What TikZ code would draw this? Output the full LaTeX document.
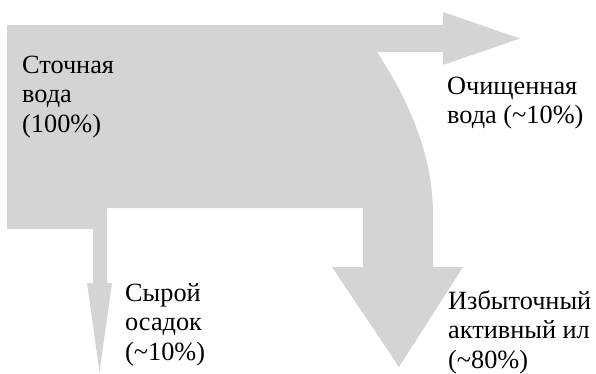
\documentclass[tikz,border=0pt]{standalone}
\usepackage{fontspec}
\setmainfont{Liberation Serif}
\definecolor{flowgray}{RGB}{212,212,212}
\tikzset{
  flow/.style={fill=flowgray, draw=none},
  lbl/.style={anchor=base west, inner sep=0pt, align=left, font=\fontsize{26.3}{29.5}\selectfont}
}
\begin{document}
\begin{tikzpicture}[x=1pt,y=-1pt]
\useasboundingbox (0,0) rectangle (596,373);
\fill[flow] (7,25) -- (443,25) -- (443,12) -- (520,38.5) -- (443,65) -- (443,52) -- (377,52)
  .. controls (405,95) and (433,150) .. (433,215)
  -- (433,267) -- (463,267) -- (399,367) -- (332,267) -- (363,267) -- (363,208)
  -- (107,208) -- (107,283) -- (112,283) -- (99.5,372) -- (87,283) -- (93,283)
  -- (93,229) -- (7,229) -- cycle;
% base anchor of a multi-line node is the baseline of its last line
\node[lbl] (inflow) at (22,132) {Сточная\\вода\\(100\%)};
\node[lbl] (clean) at (447,123.5) {Очищенная\\вода (\textasciitilde10\%)};
\node[lbl] (sludge) at (125,360) {Сырой\\осадок\\(\textasciitilde10\%)};
\node[lbl] (excess) at (448,368) {Избыточный\\активный ил\\(\textasciitilde80\%)};
\end{tikzpicture}
\end{document}
